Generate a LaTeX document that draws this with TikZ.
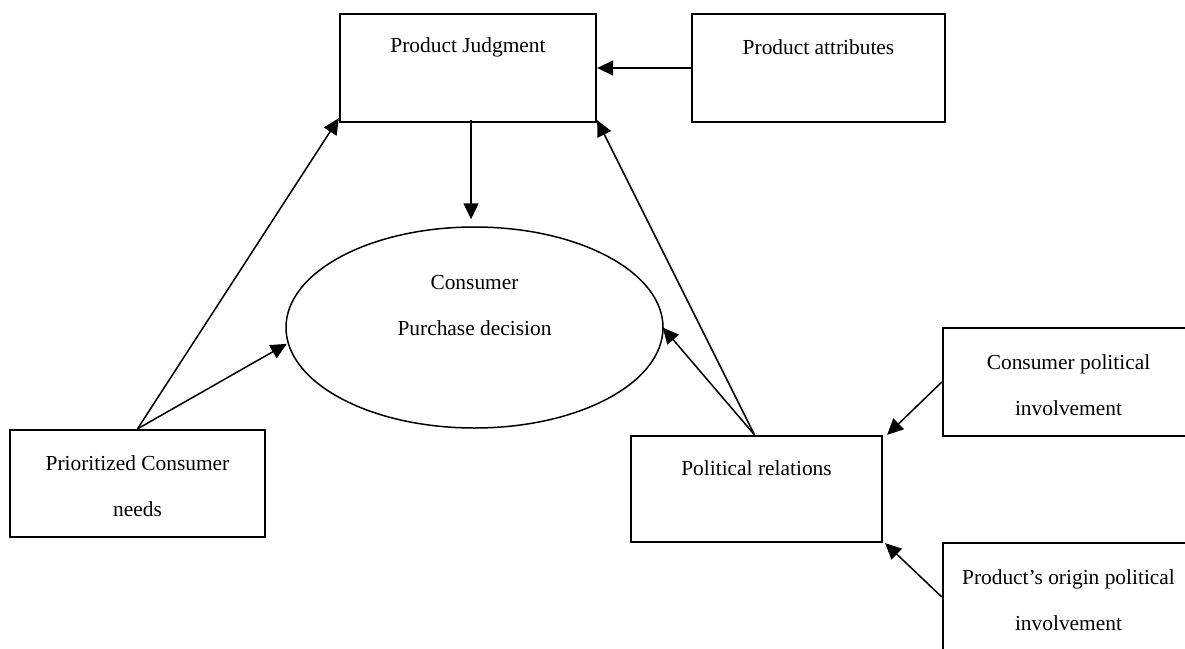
\documentclass[tikz,border=0pt]{standalone}
\usepackage{fontspec}
\setmainfont{Liberation Serif}
\usetikzlibrary{shapes.geometric,arrows.meta}
\begin{document}
\begin{tikzpicture}[x=1pt,y=-1pt,
  box/.style={draw,line width=2.3pt,inner sep=0pt,minimum width=#1,minimum height=108pt},
  box/.default=254pt,
  lbl/.style={font=\fontsize{21.4}{46}\selectfont,align=center,inner sep=0pt},
  arr/.style={line width=1.5pt,-{Triangle[length=16pt,width=15pt]}},
  ln/.style={line width=1.5pt}]
\clip (0,0) rectangle (1185,648);
\fill[white] (0,0) rectangle (1185,648);
% boxes
\node[box=256pt] (pj) at (468,68) {};
\node[box=253pt] (pa) at (818.5,68) {};
\node[box=255pt,minimum height=107pt] (pcn) at (137.5,483.5) {};
\node[box=251pt,minimum height=106pt] (pr) at (756.5,489) {};
\node[box=251pt] (cpi) at (1068.5,382) {};
\node[box=251pt] (popi) at (1068.5,597) {};
\node[draw,ellipse,line width=1.5pt,inner sep=0pt,minimum width=377pt,minimum height=201pt] (cd) at (474.5,327.5) {};
% labels
\node[lbl] (tpj) at (468,47) {Product Judgment};
\node[lbl] (tpa) at (818.5,47) {Product attributes};
\node[lbl] (tpcn) at (137.5,486.5) {Prioritized Consumer\\needs};
\node[lbl] (tpr) at (756.5,468) {Political relations};
\node[lbl] (tcpi) at (1068.5,385) {Consumer political\\involvement};
\node[lbl] (tpopi) at (1068.5,600.5) {Product’s origin political\\involvement};
\node[lbl] (tcd) at (474.5,306) {Consumer\\Purchase decision};
% connectors
\draw[arr] (pa.west) -- (pj.east);
\draw[arr] ([xshift=3pt,yshift=3pt]pj.south) -- ([xshift=-3.5pt,yshift=7pt]cd.north);
\draw[arr] (pcn.north) -- ([yshift=5pt]pj.south west);
\draw[arr] (pcn.north) -- ([xshift=-1pt]cd.185);
\draw[arr] ([xshift=-2pt]pr.north) -- ([yshift=3pt]pj.south east);
\draw[arr] ([xshift=-2pt]pr.north) -- ([xshift=-1pt]cd.east);
\draw[arr] (cpi.west) -- ([xshift=4pt]pr.north east);
\draw[arr] (popi.west) -- ([xshift=2pt]pr.south east);
\end{tikzpicture}
\end{document}
